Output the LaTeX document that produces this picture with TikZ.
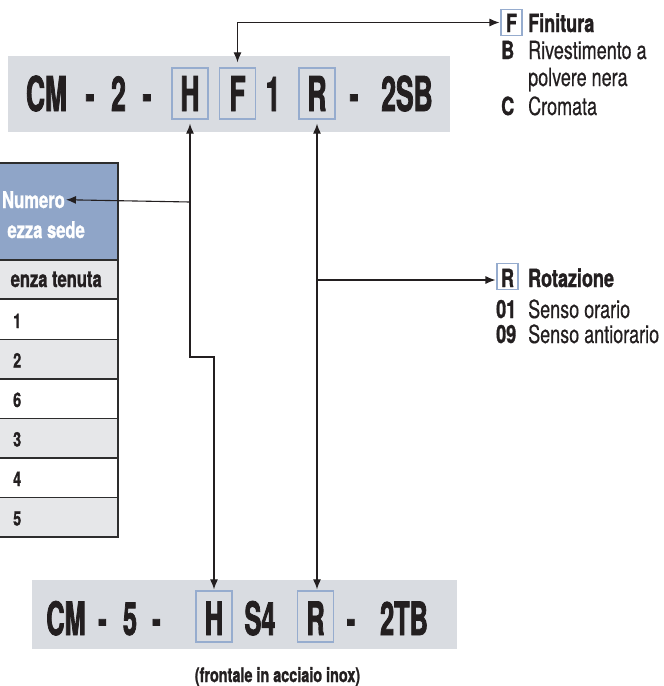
\documentclass[tikz,border=0pt]{standalone}
\usepackage{fontspec}
\setmainfont{TeX Gyre Heros}
\newfontfamily\bigfont[FakeStretch=0.55, BoldFeatures={FakeBold=1.6}]{TeX Gyre Heros}
\newfontfamily\smfont[FakeStretch=0.72, BoldFeatures={FakeBold=1.2}, UprightFeatures={FakeBold=0.4}]{TeX Gyre Heros}
\usetikzlibrary{arrows.meta}
\definecolor{barcol}{RGB}{217,220,225}
\definecolor{boxblue}{RGB}{150,172,206}
\definecolor{headblue}{RGB}{143,165,200}
\definecolor{rowgrey}{RGB}{230,231,233}
\definecolor{ink}{RGB}{35,31,32}
\definecolor{tline}{RGB}{45,45,45}
\tikzset{
  bigtxt/.style={font={\bigfont\bfseries\fontsize{48pt}{48pt}\selectfont}, text=ink, anchor=base, inner sep=0pt},
  bigtxtb/.style={font={\bigfont\bfseries\fontsize{46pt}{46pt}\selectfont}, text=ink, anchor=base, inner sep=0pt},
  keybox/.style={draw=boxblue, line width=1.3pt, minimum width=36pt, minimum height=51pt, inner sep=0pt},
  smbox/.style={draw=boxblue, line width=1.1pt, minimum width=21pt, minimum height=26pt, inner sep=0pt},
  leg/.style={font={\smfont\fontsize{25pt}{25pt}\selectfont}, text=ink, anchor=base west, inner sep=0pt},
  legb/.style={font={\smfont\bfseries\fontsize{25pt}{25pt}\selectfont}, text=ink, anchor=base west, inner sep=0pt},
  legc/.style={font={\smfont\bfseries\fontsize{25pt}{25pt}\selectfont}, text=ink, anchor=base, inner sep=0pt},
  thead/.style={font={\smfont\bfseries\fontsize{23pt}{23pt}\selectfont}, text=white, inner sep=0pt},
  tsub/.style={font={\smfont\bfseries\fontsize{23pt}{23pt}\selectfont}, text=ink, inner sep=0pt},
  digit/.style={font={\smfont\bfseries\fontsize{20pt}{20pt}\selectfont}, text=ink, anchor=base west, inner sep=0pt},
  tl/.style={draw=tline, line width=1.4pt},
  conn/.style={draw=ink, line width=1.1pt, arrows={Latex[length=10pt,width=8pt]-Latex[length=10pt,width=8pt]}},
  conn1/.style={draw=ink, line width=1.1pt, -{Latex[length=10pt,width=8pt]}}
}
\begin{document}
\begin{tikzpicture}[x=1pt,y=-1pt]
\useasboundingbox (0,0) rectangle (664,686);
\clip (0,0) rectangle (664,686);
% top code bar
\fill[barcol] (8,56) rectangle (450,132);
\node[keybox] (tH) at (190,93.5) {};
\node[keybox] (tF) at (237.5,93.5) {};
\node[keybox] (tR) at (317,93.5) {};
\node[bigtxt] (t1) at (46.5,111) {CM};
\node[bigtxt] (t2) at (90,111) {-};
\node[bigtxt] (t3) at (118.5,111) {2};
\node[bigtxt] (t4) at (147,111) {-};
\node[bigtxt] (t5) at (190,111) {H};
\node[bigtxt] (t6) at (237.5,111) {F};
\node[bigtxt] (t7) at (273,111) {1};
\node[bigtxt] (t8) at (317,111) {R};
\node[bigtxt] (t9) at (354,111) {-};
\node[bigtxt] (t10) at (407,111) {2SB};
% bottom code bar
\fill[barcol] (32,580) rectangle (457,649);
\node[keybox] (bH) at (214,616.5) {};
\node[keybox] (bR) at (315.5,616.5) {};
\node[bigtxtb] (b1) at (66,635) {CM};
\node[bigtxtb] (b2) at (102.5,635) {-};
\node[bigtxtb] (b3) at (130,635) {5};
\node[bigtxtb] (b4) at (156.5,635) {-};
\node[bigtxtb] (b5) at (214,635) {H};
\node[bigtxtb] (b6) at (260,635) {S4};
\node[bigtxtb] (b7) at (315.5,635) {R};
\node[bigtxtb] (b8) at (351,635) {-};
\node[bigtxtb] (b9) at (404,635) {2TB};
\node[font={\smfont\bfseries\fontsize{20pt}{20pt}\selectfont}, text=ink, anchor=base, inner sep=0pt] (cap) at (277.5,682) {(frontale in acciaio inox)};
% legend F
\node[smbox] (lF) at (511.5,22.5) {};
\node[legc] (lFt) at (511.5,32) {F};
\node[legb] (lF2) at (528,32) {Finitura};
\node[legb] (lB) at (501,59) {B};
\node[leg] (lB2) at (528,59) {Rivestimento a};
\node[leg] (lB3) at (528,86) {polvere nera};
\node[legb] (lC) at (501,115) {C};
\node[leg] (lC2) at (528,115) {Cromata};
% legend R
\node[smbox] (lR) at (507.5,276.5) {};
\node[legc] (lRt) at (507.5,287) {R};
\node[legb] (lR2) at (528,287) {Rotazione};
\node[legb] (l01) at (496,318) {01};
\node[leg] (l01b) at (528,318) {Senso orario};
\node[legb] (l09) at (496,343) {09};
\node[leg] (l09b) at (528,343) {Senso antiorario};
% table
\fill[headblue] (-5,163) rectangle (118,260);
\fill[rowgrey] (-5,260) rectangle (118,299);
\fill[rowgrey] (-5,339.5) rectangle (118,379);
\fill[rowgrey] (-5,418.5) rectangle (118,458);
\fill[rowgrey] (-5,497.5) rectangle (118,537);
\draw[tl] (-5,163) -- (118,163) -- (118,537) -- (-5,537);
\foreach \yy in {260,299,339.5,379,418.5,458,497.5} {\draw[tl] (-5,\yy) -- (118,\yy);}
\node[thead, anchor=base east] (num) at (65,208) {Numero};
\node[thead, anchor=base east] (gs) at (85,238) {ezza sede};
\node[tsub, anchor=base east] (st) at (102,287) {enza tenuta};
\node[digit] (r1) at (13,328) {1};
\node[digit] (r2) at (13,367.5) {2};
\node[digit] (r3) at (13,407) {6};
\node[digit] (r4) at (13,446.5) {3};
\node[digit] (r5) at (13,486) {4};
\node[digit] (r6) at (13,525.5) {5};
% connectors
\coordinate (hj) at (0,357);
\coordinate (hb) at (190,202);
\coordinate (rb) at (317,280);
\draw[conn, shorten <=4pt, shorten >=1pt] (tH.south) -- (tH.south |- hj) -| (bH.north);
\draw[conn1, shorten >=1pt] (hb) -- (num.east);
\draw[conn, shorten <=4pt, shorten >=1pt] (tR.south) -- (tR.south |- bR.north);
\draw[conn1, shorten >=1pt] (rb) -- (rb -| lR.west);
\draw[conn, shorten <=1pt, shorten >=5pt] (lF.west) -| (tF.north);
\end{tikzpicture}
\end{document}
